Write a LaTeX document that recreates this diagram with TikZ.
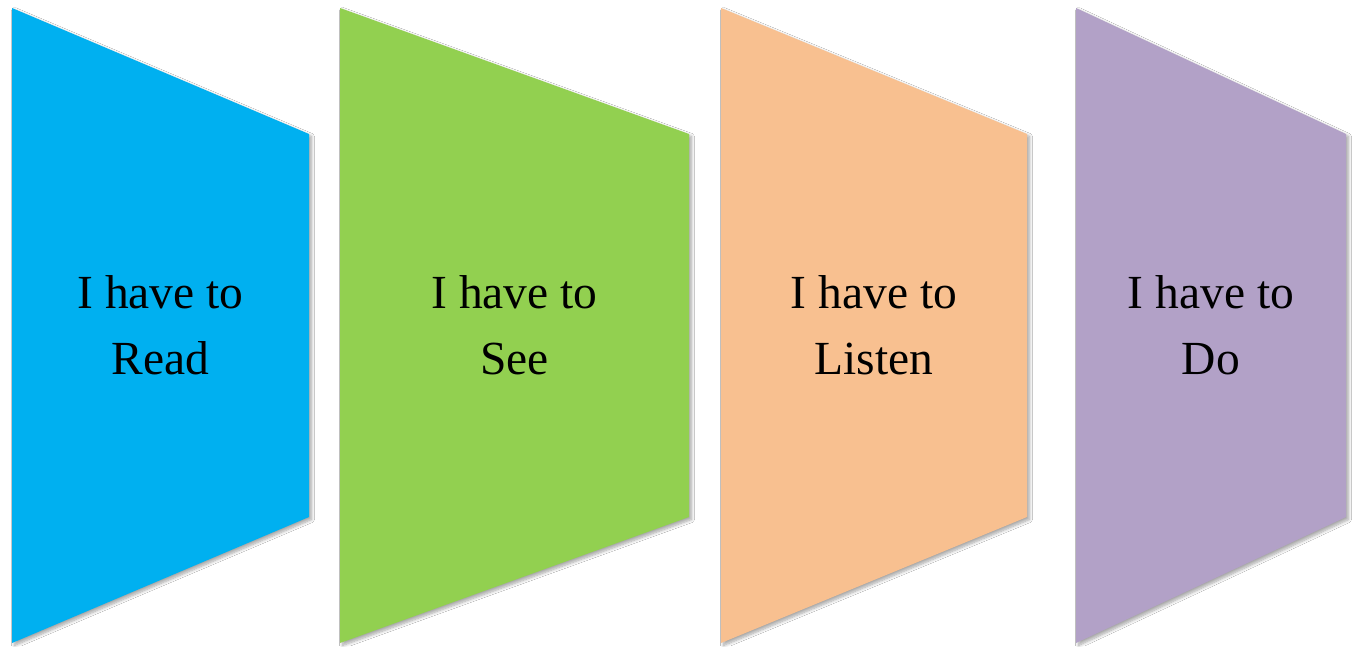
\documentclass[tikz,border=0pt]{standalone}
\usepackage{fontspec}
\setmainfont{Liberation Serif}
\usetikzlibrary{shadows.blur}
\definecolor{cblue}{HTML}{00B0F0}
\definecolor{cgreen}{HTML}{92D050}
\definecolor{corange}{HTML}{F8C090}
\definecolor{cpurple}{HTML}{B2A1C7}
\tikzset{
  panel/.style={draw=none, blur shadow={shadow xshift=2.5pt, shadow yshift=-2.5pt, shadow opacity=35, shadow blur radius=3pt, shadow blur steps=8}},
  label/.style={align=center, font=\fontsize{47.5}{66.5}\selectfont, text=black, inner sep=0pt}
}
\begin{document}
\begin{tikzpicture}[x=1pt,y=-1pt]
\useasboundingbox (0,0) rectangle (1356,646);
\fill[white] (0,0) rectangle (1356,646);
\path[panel, fill=cblue]   (12,8)   -- (309,134)  -- (309,517)  -- (12,643)   -- cycle;
\path[panel, fill=cgreen]  (340,8)  -- (689,134)  -- (689,517)  -- (340,643)  -- cycle;
\path[panel, fill=corange] (721,8)  -- (1027,134) -- (1027,517) -- (721,643)  -- cycle;
\path[panel, fill=cpurple] (1076,8) -- (1346,134) -- (1346,517) -- (1076,643) -- cycle;
\node[label] (t1) at (160.5,325) {I have to\\Read};
\node[label] (t2) at (514.5,325) {I have to\\See};
\node[label] (t3) at (874,325) {I have to\\Listen};
\node[label] (t4) at (1211,325) {I have to\\Do};
\end{tikzpicture}
\end{document}
